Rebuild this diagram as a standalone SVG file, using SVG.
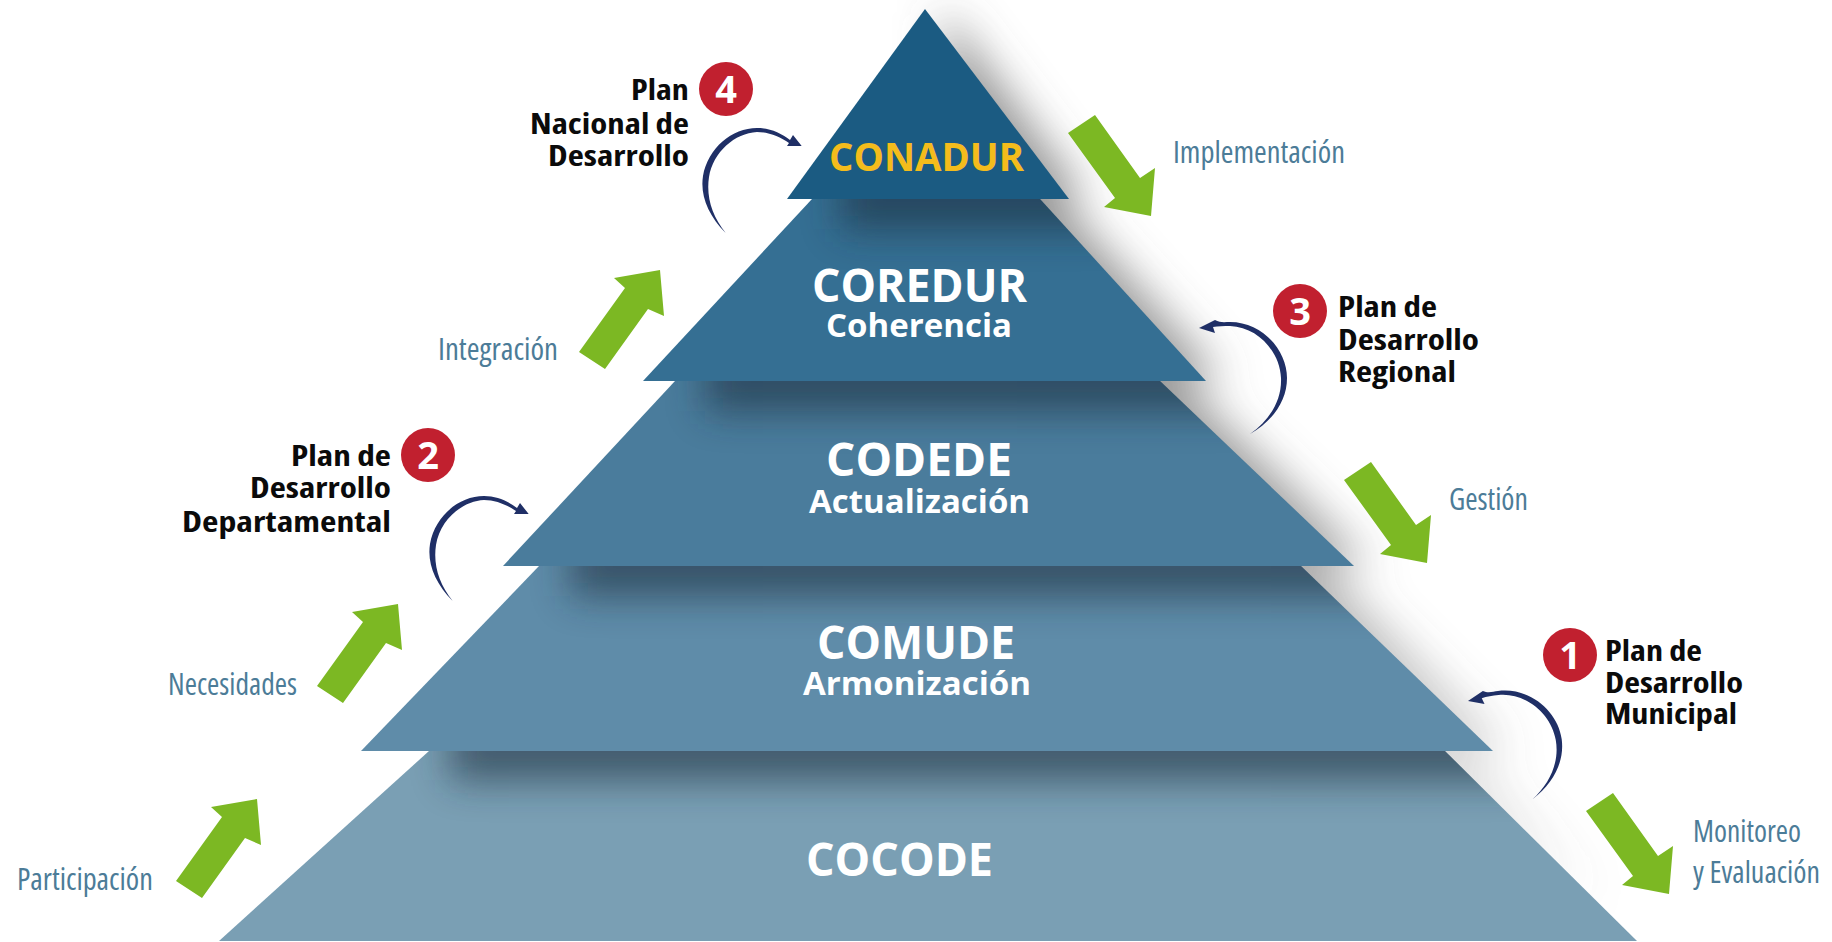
<svg xmlns="http://www.w3.org/2000/svg" xmlns:xlink="http://www.w3.org/1999/xlink" width="1832" height="942" viewBox="0 0 1832 942">
<style>
text{font-family:"Open Sans","Liberation Sans",sans-serif}
.t{font-weight:700;fill:#fff;font-size:46px}
.s{font-weight:700;fill:#fff;font-size:32px}
.b{font-weight:700;fill:#0b0b0b;font-size:29px;font-stretch:condensed}
.n{font-weight:700;fill:#fff;font-size:38px;text-anchor:middle}
.l{font-weight:400;fill:#4c7c98;font-size:30px;font-stretch:condensed}
.g{fill:#7cb823}
.c{fill:#1f2f66}
.r{fill:#c1202f}
.sh{fill:#1d2f3e;filter:url(#bl)}
</style>
<defs>
<filter id="bl" x="-20%" y="-150%" width="140%" height="400%"><feGaussianBlur stdDeviation="19"/></filter>
<filter id="rs" x="-20%" y="-10%" width="140%" height="120%"><feGaussianBlur stdDeviation="22"/></filter>
<linearGradient id="fade" x1="0" y1="0" x2="0" y2="1"><stop offset="0" stop-color="#666" stop-opacity=".7"/><stop offset=".55" stop-color="#666" stop-opacity=".65"/><stop offset=".8" stop-color="#666" stop-opacity=".3"/><stop offset="1" stop-color="#666" stop-opacity="0"/></linearGradient>
<clipPath id="c2"><polygon points="812,199 1040,199 1206,381 643,381"/></clipPath>
<clipPath id="c3"><polygon points="675,381 1160,381 1354,566 503,566"/></clipPath>
<clipPath id="c4"><polygon points="539,566 1301,566 1493,751 361,751"/></clipPath>
<clipPath id="c5"><polygon points="429,751 1445,751 1637,941 219,941"/></clipPath>
<polygon id="up" points="660,270 614,278 625,288 579,352 605,369 648,309 664,316"/>
<polygon id="dn" points="1095,115 1068,133 1115,198 1104,207 1151,216 1155,168 1140,178"/>
<path id="cl" d="M725.7,233 C708,215 700,195 703,176 C708,148 732,128 757,128 C770,128 781,133 790,140 L793,135 L801.7,146 L787,146 L789,143 C780,137 769,132 757,132 C735,133 713,152 709,177 C706,197 712,216 725.7,233 Z"/>
<path id="cr" d="M1250,434 C1274,420 1287,400 1287,378 C1287,350 1262,322 1230,322 C1225,322 1220,323 1215,320 L1199,328 L1215,333 L1213,327 C1218,326 1224,326 1230,326 C1258,327 1280,352 1281,378 C1282,400 1270,420 1250,434 Z"/>
</defs>
<rect width="1832" height="942" fill="#fff"/>
<polygon points="925,9 1069,199 1040,199 1206,381 1160,381 1354,566 1301,566 1493,751 1445,751 1600,905 925,905" fill="url(#fade)" transform="translate(18,0)" filter="url(#rs)"/>

<g id="cocode">
<polygon points="429,751 1445,751 1637,941 219,941" fill="#7a9fb4"/>
<g clip-path="url(#c5)"><rect class="sh" x="450" y="720" width="1080" height="60" opacity=".62"/></g>
<text class="t" x="806" y="876" textLength="187" lengthAdjust="spacingAndGlyphs">COCODE</text>
</g>
<g id="comude">
<polygon points="539,566 1301,566 1493,751 361,751" fill="#5f8ca9"/>
<g clip-path="url(#c4)"><rect class="sh" x="570" y="536" width="840" height="60" opacity=".62"/></g>
<text class="t" x="817" y="659" textLength="198" lengthAdjust="spacingAndGlyphs">COMUDE</text>
<text class="s" x="803" y="695" textLength="228" lengthAdjust="spacingAndGlyphs">Armonización</text>
</g>
<g id="codede">
<polygon points="675,381 1160,381 1354,566 503,566" fill="#4a7c9c"/>
<g clip-path="url(#c3)"><rect class="sh" x="705" y="351" width="550" height="60" opacity=".62"/></g>
<text class="t" x="826" y="476" textLength="186" lengthAdjust="spacingAndGlyphs">CODEDE</text>
<text class="s" x="809" y="513" textLength="221" lengthAdjust="spacingAndGlyphs">Actualización</text>
</g>
<g id="coredur">
<polygon points="812,199 1040,199 1206,381 643,381" fill="#356f93"/>
<g clip-path="url(#c2)"><rect class="sh" x="840" y="169" width="280" height="60" opacity=".62"/></g>
<text class="t" x="812" y="302" textLength="215" lengthAdjust="spacingAndGlyphs">COREDUR</text>
<text class="s" x="826" y="337" textLength="186" lengthAdjust="spacingAndGlyphs">Coherencia</text>
</g>
<g id="conadur">
<polygon points="925,9 1069,199 787,199" fill="#1b5b82"/>
<text class="t" x="829" y="171" textLength="195" lengthAdjust="spacingAndGlyphs" style="font-size:39px;fill:#f4bc1c">CONADUR</text>
</g>

<g id="connectors">
<use href="#up" class="g"/>
<use href="#up" class="g" x="-262" y="334"/>
<use href="#up" class="g" x="-403" y="529"/>
<use href="#dn" class="g"/>
<use href="#dn" class="g" x="276" y="347"/>
<use href="#dn" class="g" x="518" y="678"/>
<use href="#cl" class="c"/>
<use href="#cl" class="c" x="-273" y="368"/>
<use href="#cr" class="c"/>
<use href="#cr" class="c" transform="translate(1468,701) rotate(-7.4) translate(-1199,-328)"/>
</g>

<g id="plan4">
<circle class="r" cx="726" cy="89" r="27"/><text class="n" x="726" y="103">4</text>
<text class="b" x="631" y="100" textLength="58" lengthAdjust="spacingAndGlyphs">Plan</text>
<text class="b" x="530" y="134" textLength="159" lengthAdjust="spacingAndGlyphs">Nacional de</text>
<text class="b" x="548" y="166" textLength="141" lengthAdjust="spacingAndGlyphs">Desarrollo</text>
</g>
<g id="plan3">
<circle class="r" cx="1300" cy="311" r="27"/><text class="n" x="1300" y="325">3</text>
<text class="b" x="1338" y="317" textLength="99" lengthAdjust="spacingAndGlyphs">Plan de</text>
<text class="b" x="1338" y="350" textLength="141" lengthAdjust="spacingAndGlyphs">Desarrollo</text>
<text class="b" x="1338" y="382" textLength="118" lengthAdjust="spacingAndGlyphs">Regional</text>
</g>
<g id="plan2">
<circle class="r" cx="428" cy="455" r="27"/><text class="n" x="428" y="469">2</text>
<text class="b" x="291" y="466" textLength="100" lengthAdjust="spacingAndGlyphs">Plan de</text>
<text class="b" x="250" y="498" textLength="141" lengthAdjust="spacingAndGlyphs">Desarrollo</text>
<text class="b" x="182" y="532" textLength="209" lengthAdjust="spacingAndGlyphs">Departamental</text>
</g>
<g id="plan1">
<circle class="r" cx="1570" cy="655" r="27"/><text class="n" x="1570" y="669">1</text>
<text class="b" x="1605" y="661" textLength="97" lengthAdjust="spacingAndGlyphs">Plan de</text>
<text class="b" x="1605" y="693" textLength="138" lengthAdjust="spacingAndGlyphs">Desarrollo</text>
<text class="b" x="1605" y="724" textLength="132" lengthAdjust="spacingAndGlyphs">Municipal</text>
</g>

<g id="labels">
<text class="l" x="1173" y="163" textLength="172" lengthAdjust="spacingAndGlyphs">Implementación</text>
<text class="l" x="438" y="360" textLength="120" lengthAdjust="spacingAndGlyphs">Integración</text>
<text class="l" x="1449" y="510" textLength="79" lengthAdjust="spacingAndGlyphs">Gestión</text>
<text class="l" x="168" y="695" textLength="129" lengthAdjust="spacingAndGlyphs">Necesidades</text>
<text class="l" x="17" y="890" textLength="136" lengthAdjust="spacingAndGlyphs">Participación</text>
<text class="l" x="1693" y="842" textLength="108" lengthAdjust="spacingAndGlyphs">Monitoreo</text>
<text class="l" x="1693" y="883" textLength="127" lengthAdjust="spacingAndGlyphs">y Evaluación</text>
</g>
</svg>
